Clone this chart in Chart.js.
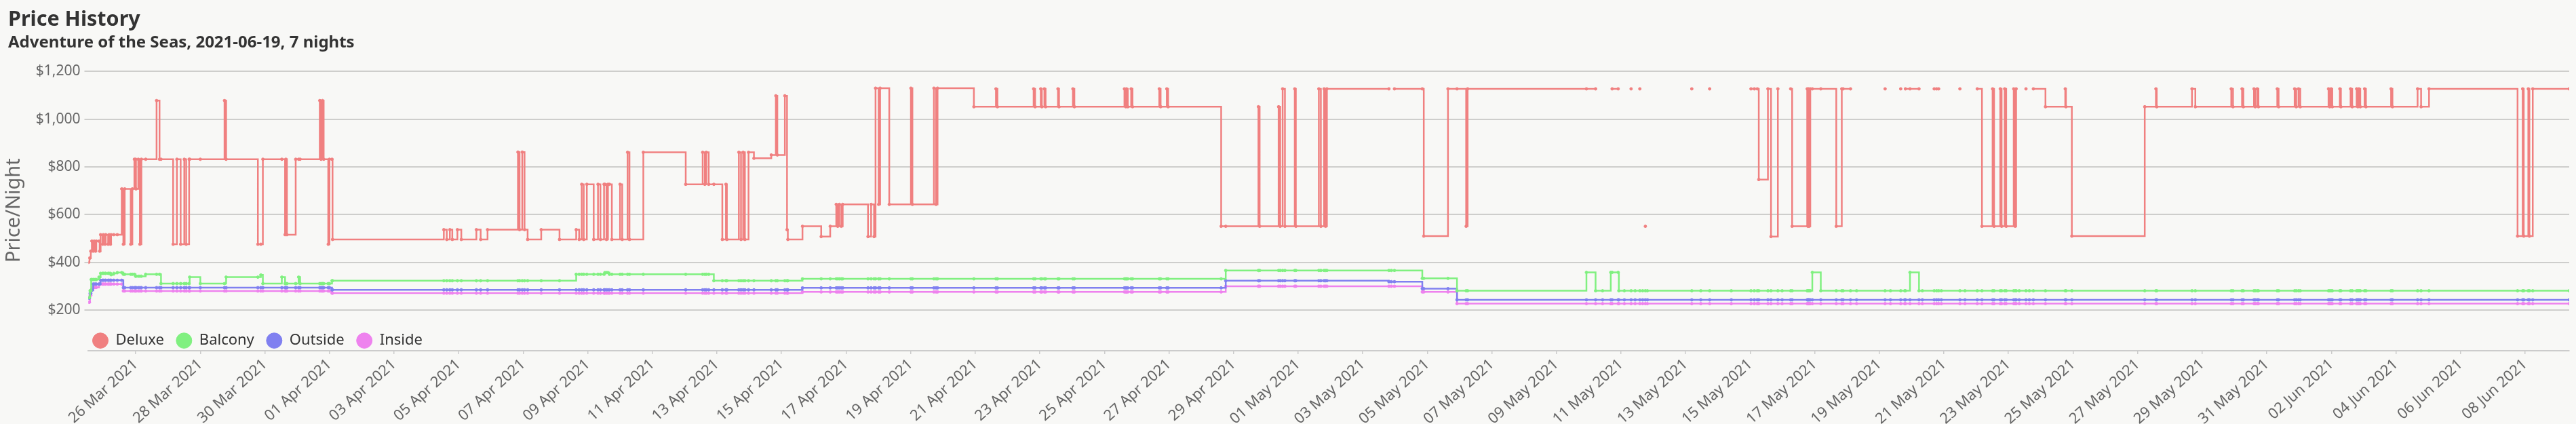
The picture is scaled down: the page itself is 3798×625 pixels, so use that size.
<!DOCTYPE html>
<html>
<head>
<meta charset="utf-8">
<title>Price History</title>
<script src="https://cdn.jsdelivr.net/npm/chart.js@4.4.1/dist/chart.umd.min.js"></script>
<style>
  html, body { margin: 0; padding: 0; background: #f8f8f6; }
  #wrap { width: 3798px; height: 625px; }
</style>
</head>
<body>
<div id="wrap"><canvas id="priceChart"></canvas></div>
<script>
// every crawl is stored as hours after the first one
const firstCrawl = '2021-03-24T12:00:00Z';

const hours = [
  0.9, 1.6, 2.0, 2.6, 2.9, 3.4, 4.4, 5.1, 6.1, 6.7,
  8.7, 9.2, 9.9, 11.4, 11.9, 13.2, 13.7, 15.5, 16.2, 17.2,
  17.7, 19.7, 22.3, 25.6, 26.8, 27.8, 32.3, 33.5, 35.0, 35.9,
  36.2, 37.9, 39.1, 40.2, 43.4, 51.5, 53.7, 54.8, 63.8, 66.6,
  69.4, 72.1, 73.5, 75.7, 76.1, 84.0, 102.0, 103.2, 126.8, 129.0,
  130.5, 144.6, 147.0, 147.6, 148.4, 154.9, 157.1, 158.2, 172.8, 173.8,
  174.8, 175.7, 179.1, 180.0, 181.9, 182.3, 265.0, 267.2, 269.5, 271.3,
  275.1, 278.0, 289.2, 292.4, 297.5, 320.1, 321.3, 323.3, 325.0, 327.3,
  337.4, 351.0, 363.4, 365.6, 367.5, 369.0, 371.3, 376.4, 379.6, 381.4,
  384.1, 384.7, 385.9, 387.0, 388.1, 389.9, 396.0, 397.6, 401.6, 403.0,
  413.3, 444.8, 457.4, 459.0, 460.1, 461.9, 465.7, 472.0, 474.7, 475.4,
  484.3, 485.9, 487.5, 488.8, 491.5, 495.5, 508.4, 511.8, 512.9, 518.5,
  520.1, 520.7, 531.6, 545.5, 552.2, 556.7, 557.8, 559.0, 560.5, 561.5,
  580.3, 582.6, 584.8, 585.9, 588.2, 589.3, 596.1, 612.2, 613.3, 629.3,
  630.9, 632.0, 659.0, 675.4, 676.5, 703.4, 704.5, 708.7, 709.5, 711.4,
  712.3, 721.5, 722.3, 732.6, 733.7, 770.9, 771.9, 772.4, 773.4, 775.9,
  776.9, 796.8, 797.8, 802.4, 803.4, 842.8, 846.2, 870.5, 871.4, 885.5,
  886.7, 888.5, 890.2, 897.5, 898.3, 915.4, 916.9, 919.3, 920.4, 921.4,
  967.5, 969.3, 971.6, 992.3, 993.4, 1011.4, 1018.1, 1024.9, 1026.0, 1114.3,
  1121.1, 1126.3, 1132.4, 1133.4, 1137.9, 1138.4, 1142.5, 1147.5, 1150.5, 1154.0,
  1156.1, 1158.1, 1159.6, 1192.6, 1199.3, 1205.9, 1222.0, 1236.6, 1239.1, 1241.3,
  1242.4, 1249.2, 1251.5, 1256.6, 1259.8, 1266.1, 1267.2, 1278.4, 1278.9, 1279.4,
  1279.9, 1280.7, 1282.2, 1288.5, 1300.0, 1304.1, 1305.1, 1310.6, 1315.1, 1336.3,
  1340.3, 1347.9, 1350.9, 1351.4, 1354.8, 1361.5, 1364.0, 1372.8, 1374.6, 1376.1,
  1378.1, 1391.9, 1395.7, 1404.8, 1408.3, 1416.2, 1417.3, 1421.9, 1422.9, 1425.2,
  1426.3, 1431.9, 1433.0, 1433.7, 1436.0, 1441.0, 1443.5, 1446.5, 1455.5, 1470.2,
  1470.7, 1475.1, 1529.3, 1537.6, 1538.2, 1564.4, 1566.9, 1593.6, 1594.9, 1601.6,
  1602.6, 1610.5, 1611.4, 1612.9, 1613.8, 1627.8, 1628.8, 1640.7, 1641.9, 1643.6,
  1644.9, 1665.9, 1666.8, 1667.8, 1668.7, 1674.3, 1675.1, 1682.3, 1683.5, 1686.8,
  1687.7, 1688.5, 1689.5, 1692.7, 1693.7, 1712.4, 1713.4, 1732.1, 1734.7, 1740.6,
  1806.4, 1810.2, 1811.0, 1814.4, 1815.2, 1817.7, 1844.8
];

// null = no deluxe fare found in that crawl
const deluxe = [
  400, 418, 418, 447, 447, 489, 447, 489, 447, 489,
  489, 447, 516, 476, 516, 476, 516, 476, 516, 476,
  516, 516, 516, 708, 476, 708, 476, 708, 832, 832,
  708, 832, 476, 832, 832, 1078, 832, 832, 476, 832,
  476, 832, 476, 832, 832, 832, 1078, 832, 476, 476,
  832, 832, 516, 832, 516, 832, 832, 832, 1078, 832,
  1078, 832, 476, 832, 832, 496, 537, 496, 537, 496,
  537, 496, 537, 496, 537, 862, 537, 862, 537, 496,
  537, 496, 537, 496, 727, 496, 727, 496, 727, 496,
  727, 727, 496, 727, 727, 496, 727, 496, 861, 496,
  861, 727, 861, 727, 861, 727, 727, 496, 727, 496,
  861, 496, 861, 496, 861, 836, 850, 1098, 850, 1098,
  537, 496, 551, 508, 551, 643, 551, 643, 551, 643,
  508, 643, 508, 1130, 643, 1130, 643, 1130, 643, 1130,
  643, 1130, 1052, 1127, 1052, 1127, 1052, 1127, 1052, 1127,
  1052, 1127, 1052, 1127, 1052, 1127, 1052, 1127, 1052, 1127,
  1052, 1127, 1052, 1127, 1052, 551, 551, 1052, 551, 1052,
  551, 1127, 551, 1127, 551, 1127, 551, 1127, 551, 1127,
  1127, null, 1127, 1127, 510, 1127, 1127, 551, 1127, 1127,
  1127, null, null, 1127, 1127, null, null, 1127, null, 1127,
  null, 551, null, 1127, null, 1127, null, 1127, 1127, 1127,
  747, 1127, 508, 1127, null, 1127, 551, 1127, 551, 1127,
  551, 1127, 1127, 1127, 551, 1127, 1127, 1127, null, 1127,
  null, 1127, null, 1127, 1127, 1127, null, 1127, 1127, 1127,
  null, 1127, null, 1127, 551, 1127, 551, 1127, 551, 1127,
  551, 1127, 551, 1127, null, 1127, null, 1127, 1052, 1127,
  1052, 510, 1052, 1127, 1052, 1127, 1052, 1127, 1052, 1127,
  1052, 1127, 1052, 1127, 1052, 1127, 1052, 1127, 1052, 1127,
  1052, 1127, 1052, 1127, 1052, 1127, 1052, 1127, 1052, 1127,
  1052, 1127, 1052, 1127, 1052, 1127, 1052, 1127, 1052, 1127,
  510, 1127, 510, 1127, 510, 1127, 1127
];

const balcony = [
  252, 252, 281, 281, 328, 328, 328, 328, 328, 328,
  338, 338, 354, 354, 354, 354, 354, 354, 354, 354,
  348, 354, 357, 357, 350, 350, 350, 350, 350, 342,
  342, 342, 342, 342, 350, 350, 350, 311, 311, 311,
  311, 311, 311, 311, 338, 311, 311, 338, 338, 347,
  311, 338, 311, 311, 311, 311, 338, 311, 311, 311,
  311, 311, 311, 311, 323, 323, 323, 323, 323, 323,
  323, 323, 323, 323, 323, 323, 323, 323, 323, 323,
  323, 323, 350, 350, 350, 350, 350, 350, 350, 350,
  350, 357, 357, 357, 350, 350, 350, 350, 350, 350,
  350, 350, 350, 350, 350, 350, 323, 323, 323, 323,
  323, 323, 323, 323, 323, 323, 323, 323, 323, 323,
  323, 323, 331, 331, 331, 331, 331, 331, 331, 331,
  331, 331, 331, 331, 331, 331, 331, 331, 331, 331,
  331, 331, 331, 331, 331, 331, 331, 331, 331, 331,
  331, 331, 331, 331, 331, 331, 331, 331, 331, 331,
  331, 331, 331, 331, 331, 331, 366, 366, 366, 366,
  366, 366, 366, 366, 366, 366, 366, 366, 366, 366,
  366, 366, 366, 333, 333, 333, 281, 281, 281, 358,
  281, 281, 358, 358, 358, 281, 281, 281, 281, 281,
  281, 281, 281, 281, 281, 281, 281, 281, 281, 281,
  281, 281, 281, 281, 281, 281, 281, 281, 281, 281,
  281, 281, 358, 281, 281, 281, 281, 281, 281, 281,
  281, 281, 281, 281, 358, 281, 281, 281, 281, 281,
  281, 281, 281, 281, 281, 281, 281, 281, 281, 281,
  281, 281, 281, 281, 281, 281, 281, 281, 281, 281,
  281, 281, 281, 281, 281, 281, 281, 281, 281, 281,
  281, 281, 281, 281, 281, 281, 281, 281, 281, 281,
  281, 281, 281, 281, 281, 281, 281, 281, 281, 281,
  281, 281, 281, 281, 281, 281, 281, 281, 281, 281,
  281, 281, 281, 281, 281, 281, 281
];

const outside = [
  250, 250, 270, 270, 283, 283, 309, 309, 309, 309,
  309, 309, 325, 325, 325, 325, 325, 325, 325, 325,
  325, 325, 325, 325, 294, 294, 294, 294, 294, 294,
  294, 294, 294, 294, 294, 294, 294, 294, 294, 294,
  294, 294, 294, 294, 294, 294, 294, 294, 294, 294,
  294, 294, 294, 294, 294, 294, 294, 294, 294, 294,
  294, 294, 294, 294, 285, 285, 285, 285, 285, 285,
  285, 285, 285, 285, 285, 285, 285, 285, 285, 285,
  285, 285, 285, 285, 285, 285, 285, 285, 285, 285,
  285, 285, 285, 285, 285, 285, 285, 285, 285, 285,
  285, 285, 285, 285, 285, 285, 285, 285, 285, 285,
  285, 285, 285, 285, 285, 285, 285, 285, 285, 285,
  285, 285, 293, 293, 293, 293, 293, 293, 293, 293,
  293, 293, 293, 293, 293, 293, 293, 293, 293, 293,
  293, 293, 293, 293, 293, 293, 293, 293, 293, 293,
  293, 293, 293, 293, 293, 293, 293, 293, 293, 293,
  293, 293, 293, 293, 293, 293, 323, 323, 323, 323,
  323, 323, 323, 323, 323, 323, 323, 323, 323, 323,
  319, 319, 319, 290, 290, 290, 243, 243, 243, 243,
  243, 243, 243, 243, 243, 243, 243, 243, 243, 243,
  243, 243, 243, 243, 243, 243, 243, 243, 243, 243,
  243, 243, 243, 243, 243, 243, 243, 243, 243, 243,
  243, 243, 243, 243, 243, 243, 243, 243, 243, 243,
  243, 243, 243, 243, 243, 243, 243, 243, 243, 243,
  243, 243, 243, 243, 243, 243, 243, 243, 243, 243,
  243, 243, 243, 243, 243, 243, 243, 243, 243, 243,
  243, 243, 243, 243, 243, 243, 243, 243, 243, 243,
  243, 243, 243, 243, 243, 243, 243, 243, 243, 243,
  243, 243, 243, 243, 243, 243, 243, 243, 243, 243,
  243, 243, 243, 243, 243, 243, 243, 243, 243, 243,
  243, 243, 243, 243, 243, 243, 243
];

const inside = [
  233, 233, 262, 262, 285, 285, 295, 295, 295, 295,
  309, 309, 309, 309, 309, 309, 309, 309, 309, 309,
  309, 309, 309, 309, 280, 280, 280, 280, 280, 280,
  280, 280, 280, 280, 280, 280, 280, 280, 280, 280,
  280, 280, 280, 280, 280, 280, 280, 280, 280, 280,
  280, 280, 280, 280, 280, 280, 280, 280, 280, 280,
  280, 280, 280, 280, 271, 271, 271, 271, 271, 271,
  271, 271, 271, 271, 271, 271, 271, 271, 271, 271,
  271, 271, 271, 271, 271, 271, 271, 271, 271, 271,
  271, 271, 271, 271, 271, 271, 271, 271, 271, 271,
  271, 271, 271, 271, 271, 271, 271, 271, 271, 271,
  271, 271, 271, 271, 271, 271, 271, 271, 271, 271,
  271, 271, 276, 276, 276, 276, 276, 276, 276, 276,
  276, 276, 276, 276, 276, 276, 276, 276, 276, 276,
  276, 276, 276, 276, 276, 276, 276, 276, 276, 276,
  276, 276, 276, 276, 276, 276, 276, 276, 276, 276,
  276, 276, 276, 276, 276, 276, 300, 300, 300, 300,
  300, 300, 300, 300, 300, 300, 300, 300, 300, 300,
  300, 300, 300, 276, 276, 276, 227, 227, 227, 227,
  227, 227, 227, 227, 227, 227, 227, 227, 227, 227,
  227, 227, 227, 227, 227, 227, 227, 227, 227, 227,
  227, 227, 227, 227, 227, 227, 227, 227, 227, 227,
  227, 227, 227, 227, 227, 227, 227, 227, 227, 227,
  227, 227, 227, 227, 227, 227, 227, 227, 227, 227,
  227, 227, 227, 227, 227, 227, 227, 227, 227, 227,
  227, 227, 227, 227, 227, 227, 227, 227, 227, 227,
  227, 227, 227, 227, 227, 227, 227, 227, 227, 227,
  227, 227, 227, 227, 227, 227, 227, 227, 227, 227,
  227, 227, 227, 227, 227, 227, 227, 227, 227, 227,
  227, 227, 227, 227, 227, 227, 227, 227, 227, 227,
  227, 227, 227, 227, 227, 227, 227
];

const cabinNames = ['Deluxe', 'Balcony', 'Outside', 'Inside'];
const cabinColors = ['rgb(240, 128, 128)', 'rgb(128, 240, 128)', 'rgb(128, 128, 240)', 'rgb(238, 130, 238)'];

// x ticks: one every 2 days starting here
const firstTickDate = '2021-03-26T00:00:00Z';
const tickStepDays = 2;
const monthNames = ['Jan', 'Feb', 'Mar', 'Apr', 'May', 'Jun', 'Jul', 'Aug', 'Sep', 'Oct', 'Nov', 'Dec'];

const HOUR = 3600 * 1000;
const DAY = 24 * HOUR;
const start = Date.parse(firstCrawl);
const times = hours.map(h => start + h * HOUR);

function dateLabel(ms) {
    const d = new Date(ms);
    return String(d.getUTCDate()).padStart(2, '0') + ' ' + monthNames[d.getUTCMonth()] + ' ' + d.getUTCFullYear();
}

function cabinSeries(i, values) {
    return {
        label: cabinNames[i],
        data: values,
        borderColor: cabinColors[i],
        backgroundColor: cabinColors[i],
        borderWidth: 2.5,
        pointRadius: 2,
        pointBorderWidth: 1,
        stepped: true,
        fill: false
    };
}

// legend sits between plot and x axis, move it to where the original one is
const legendNudge = {
    id: 'legendNudge',
    afterLayout(chart) {
        chart.legend.left -= 12;
        chart.legend.top += 6;
    }
};

Chart.defaults.font.family = '"Noto Sans", sans-serif';

window.onload = function () {
    const ctx = document.getElementById('priceChart').getContext('2d');
    new Chart(ctx, {
        type: 'line',
        data: {
            labels: times,
            datasets: [
                cabinSeries(0, deluxe),
                cabinSeries(1, balcony),
                cabinSeries(2, outside),
                cabinSeries(3, inside)
            ]
        },
        options: {
            responsive: true,
            maintainAspectRatio: false,
            animation: false,
            devicePixelRatio: 1,
            layout: { padding: { left: 12, right: 10, top: 0, bottom: -8 } },
            scales: {
                x: {
                    type: 'linear',
                    weight: 2000,
                    min: times[0],
                    max: times[times.length - 1],
                    grid: { drawOnChartArea: false, color: '#cccccc', lineWidth: 1.5, tickLength: 5 },
                    border: { display: true, color: '#cccccc', width: 2 },
                    ticks: {
                        color: '#666',
                        font: { size: 22 },
                        autoSkip: false,
                        minRotation: 42,
                        maxRotation: 42,
                        padding: 2,
                        callback: v => dateLabel(v)
                    },
                    afterBuildTicks: axis => {
                        const ticks = [];
                        for (let t = Date.parse(firstTickDate); t <= axis.max; t += tickStepDays * DAY) {
                            ticks.push({ value: t });
                        }
                        axis.ticks = ticks;
                    }
                },
                y: {
                    min: 200,
                    max: 1200,
                    grid: { color: 'rgba(0, 0, 0, 0.17)', lineWidth: 2, tickLength: 6 },
                    border: { display: false },
                    ticks: {
                        stepSize: 200,
                        color: '#666',
                        font: { size: 21 },
                        padding: 6,
                        callback: v => '$' + v.toLocaleString('en-US')
                    },
                    title: {
                        display: true,
                        // trailing en spaces push the label a bit lower, like the original
                        text: 'Price/Night\u2002\u2002\u2002\u2002',
                        color: '#666',
                        font: { size: 29 },
                        padding: { top: -9, bottom: 9 }
                    }
                }
            },
            plugins: {
                title: {
                    display: true,
                    text: 'Price History',
                    align: 'start',
                    color: '#333',
                    font: { size: 30.5, weight: 'bold' },
                    padding: { top: 11.3, bottom: 0 }
                },
                subtitle: {
                    display: true,
                    text: 'Adventure of the Seas, 2021-06-19, 7 nights',
                    align: 'start',
                    color: '#333',
                    font: { size: 24, weight: 'bold' },
                    padding: { top: 0.9, bottom: 27.7 }
                },
                legend: {
                    position: 'bottom',
                    align: 'start',
                    fullSize: false,
                    title: { display: true, text: '', font: { size: 10, lineHeight: 1 }, padding: 0 },
                    labels: {
                        usePointStyle: true,
                        pointStyle: 'circle',
                        pointStyleWidth: 23,
                        boxHeight: 16,
                        color: '#333',
                        font: { size: 22 },
                        padding: 18
                    }
                },
                tooltip: { enabled: false }
            }
        },
        plugins: [legendNudge]
    });
};
</script>
</body>
</html>
